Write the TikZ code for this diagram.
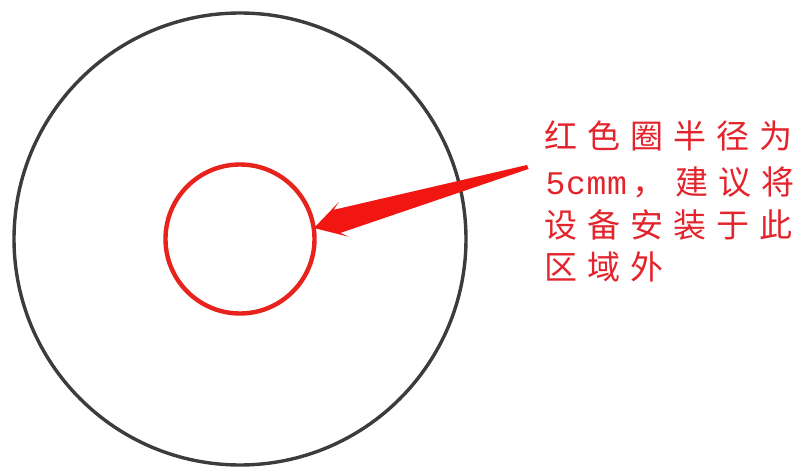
\documentclass[tikz,border=0pt]{standalone}
\usepackage{fontspec}
\newfontfamily\cjk{Noto Sans CJK SC}
\newfontfamily\latinmono{Liberation Mono}
\definecolor{ringgray}{RGB}{60,60,60}
\definecolor{ringred}{RGB}{232,34,28}
\definecolor{arrowred}{RGB}{242,22,18}
\definecolor{textred}{RGB}{228,36,44}
\newcommand{\fc}[1]{\makebox[43pt]{\cjk #1}}
\newcommand{\hc}[1]{\makebox[20.5pt]{\latinmono #1}}
\tikzset{
  noteline/.style={anchor=west, inner sep=0pt, text=textred, font=\fontsize{33}{33}\selectfont},
}
\begin{document}
\begin{tikzpicture}[x=1pt,y=-1pt]
\useasboundingbox (0,0) rectangle (800,468);
\fill[white] (0,0) rectangle (800,468);
% circles
\coordinate (center) at (240,239);
\draw[ringgray, line width=3.4pt] (center) circle[radius=226];
\draw[ringred, line width=4.4pt] (center) circle[radius=74.5];
% wedge arrow
\coordinate (tip) at (314,228);
\coordinate (tail) at (527,167);
\fill[arrowred] (tip) -- (348.8,236.7) -- (340.4,232.9) -- (528.6,168.9) -- (527.0,165.0) -- (333.7,209.8) -- (338.8,202.1) -- cycle;
% text
\node[noteline] (l1) at (539.5,136) {\fc{红}\fc{色}\fc{圈}\fc{半}\fc{径}\fc{为}};
\node[noteline] (l2) at (545,182) {\hc{5}\hc{c}\hc{m}\hc{m}\fc{，}\fc{建}\fc{议}\fc{将}};
\node[noteline] (l3) at (539.5,225) {\fc{设}\fc{备}\fc{安}\fc{装}\fc{于}\fc{此}};
\node[noteline] (l4) at (539.5,267) {\fc{区}\fc{域}\fc{外}};
\end{tikzpicture}
\end{document}
